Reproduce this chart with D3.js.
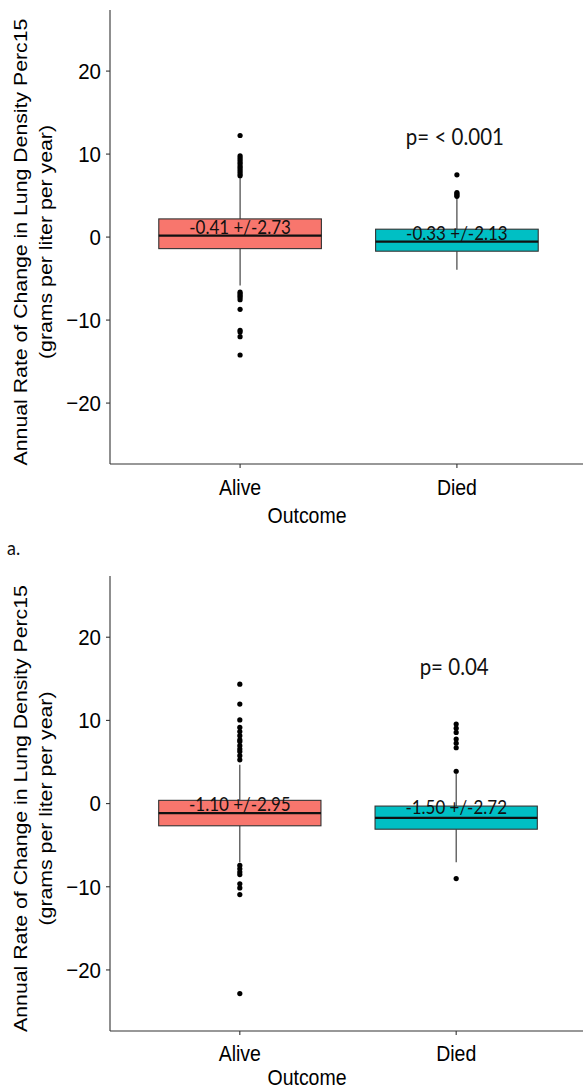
<!DOCTYPE html>
<html>
<head>
<meta charset="utf-8">
<script src="https://cdn.jsdelivr.net/npm/d3@7"></script>
<style>
  html, body { margin: 0; padding: 0; background: #fff; }
  svg { display: block; }
</style>
</head>
<body>
<svg id="chart" width="583" height="1091"></svg>
<script>
// ---------- DATA ----------
const categories = ["Alive", "Died"];
const yTicks = [-20, -10, 0, 10, 20];
const fillColors = ["#F8766D", "#00BFC4"];

// Panel 1 (top)
const p1Q1 = [-1.45, -1.76];
const p1Median = [0.12, -0.60];
const p1Q3 = [2.13, 0.89];
const p1WhiskerLow = [-5.9, -4.0];
const p1WhiskerHigh = [7.2, 4.6];
const p1OutliersAlive = [12.18, 9.73, 9.5, 9.25, 9.0, 8.77, 8.5, 8.29, 8.05, 7.81, 7.55, 7.33,
                         -6.7, -6.9, -7.1, -7.3, -7.6, -8.76, -11.3, -11.5, -12.06, -14.27];
const p1OutliersDied = [7.44, 5.3, 5.15, 5.0, 4.85];
const p1Labels = ["-0.41 +/-2.73", "-0.33 +/-2.13"];
const p1LabelY = [1.2, 0.45];
const p1PText = "p= < 0.001";
const p1PY = 12.0;

// Panel 2 (bottom)
const p2Q1 = [-2.73, -3.14];
const p2Median = [-1.21, -1.77];
const p2Q3 = [0.33, -0.36];
const p2WhiskerLow = [-7.1, -7.1];
const p2WhiskerHigh = [4.6, 3.6];
const p2OutliersAlive = [14.3, 11.9, 10.0, 9.1, 8.6, 8.1, 7.6, 7.4, 6.9, 6.5, 6.2, 5.7, 5.2,
                         -7.5, -7.9, -8.3, -8.6, -9.7, -10.2, -11.0, -22.9];
const p2OutliersDied = [9.5, 9.0, 8.5, 7.7, 7.2, 6.65, 3.83, -9.07];
const p2Labels = ["-1.10 +/-2.95", "-1.50 +/-2.72"];
const p2LabelY = [-0.07, -0.47];
const p2PText = "p= 0.04";
const p2PY = 16.4;

const yTitle1 = "Annual Rate of Change in Lung Density Perc15";
const yTitle2 = "(grams per liter per year)";
const xTitle = "Outcome";
const panelTag = "a.";

// ---------- DRAW ----------
const svg = d3.select("#chart");
const axisFont = "'Liberation Sans', Arial, sans-serif";
const annFont = "Lato, 'Open Sans', sans-serif";
const STRETCH = 1.12; // the picture is slightly taller than wide in its glyphs

// horizontal text, vertically stretched, centred on (x, y)
function hText(parent, x, y, txt, size, family, anchor) {
  return parent.append("text")
    .attr("transform", `translate(${x},${y}) scale(1,${STRETCH})`)
    .attr("text-anchor", anchor || "middle").attr("dominant-baseline", "central")
    .attr("font-family", family).attr("font-size", size).attr("fill", "#000")
    .text(txt);
}

function drawPanel(cfg) {
  const g = svg.append("g");
  const x = d3.scaleBand().domain(categories)
      .range([cfg.left, cfg.right]).paddingInner(0.25).paddingOuter(0.225);
  const y = d3.scaleLinear().domain([-27.4, 27.3]).range([cfg.bottom, cfg.top]);

  // y axis
  const yAxis = g.append("g").attr("transform", `translate(${cfg.left},0)`)
    .call(d3.axisLeft(y).tickValues(yTicks).tickSize(4).tickPadding(5));
  yAxis.select(".domain").attr("d", `M0,${cfg.top}V${cfg.bottom}`);
  yAxis.selectAll("path,line").attr("stroke", "#333").attr("stroke-width", 1.1);
  yAxis.selectAll("text")
    .attr("font-family", axisFont).attr("font-size", 20.5).attr("fill", "#000")
    .attr("dy", null).attr("dominant-baseline", "central")
    .attr("transform", `scale(1,${STRETCH})`);

  // x axis
  const xAxis = g.append("g").attr("transform", `translate(0,${cfg.bottom})`)
    .call(d3.axisBottom(x).tickSize(4).tickPadding(5));
  xAxis.select(".domain").attr("d", `M${cfg.left},0H${cfg.right}`);
  xAxis.selectAll("path,line").attr("stroke", "#333").attr("stroke-width", 1.1);
  xAxis.selectAll("text")
    .attr("font-family", axisFont).attr("font-size", 19.5).attr("fill", "#000")
    .attr("y", 0).attr("dy", null).attr("dominant-baseline", "central")
    .attr("transform", `translate(0,${cfg.tickLabelOffset}) scale(1,${STRETCH})`);

  const bw = x.bandwidth();
  const data = categories.map((c, i) => ({
    c, i, q1: cfg.q1[i], med: cfg.median[i], q3: cfg.q3[i],
    lo: cfg.wlo[i], hi: cfg.whi[i], out: cfg.outliers[i],
    label: cfg.labels[i], ly: cfg.labelY[i]
  }));

  const box = g.selectAll(".box").data(data).join("g").attr("class", "box");
  const cx = d => x(d.c) + bw / 2;
  // whiskers
  box.append("line").attr("x1", cx).attr("x2", cx)
    .attr("y1", d => y(d.q3)).attr("y2", d => y(d.hi))
    .attr("stroke", "#333").attr("stroke-width", 1.1);
  box.append("line").attr("x1", cx).attr("x2", cx)
    .attr("y1", d => y(d.q1)).attr("y2", d => y(d.lo))
    .attr("stroke", "#333").attr("stroke-width", 1.1);
  // boxes
  box.append("rect").attr("x", d => x(d.c)).attr("width", bw)
    .attr("y", d => y(d.q3)).attr("height", d => y(d.q1) - y(d.q3))
    .attr("fill", d => fillColors[d.i]).attr("stroke", "#333").attr("stroke-width", 1.1);
  // median
  box.append("line").attr("x1", d => x(d.c)).attr("x2", d => x(d.c) + bw)
    .attr("y1", d => y(d.med)).attr("y2", d => y(d.med))
    .attr("stroke", "#111").attr("stroke-width", 2.2);
  // outliers
  box.selectAll("circle").data(d => d.out.map(v => ({ c: d.c, v }))).join("circle")
    .attr("cx", d => x(d.c) + bw / 2).attr("cy", d => y(d.v)).attr("r", 2.6).attr("fill", "#000");
  // labels
  box.each(function(d) {
    hText(d3.select(this), cx(d), y(d.ly), d.label, 17, annFont).attr("fill", "#111");
  });

  // p text
  hText(g, x("Died") + bw / 2 - 2, y(cfg.pY), cfg.pText, 20.5, annFont).attr("fill", "#111");

  // y titles (stretched along their length, which runs vertically)
  const ymid = (cfg.top + cfg.bottom) / 2 + 5;
  [[yTitle1, 20], [yTitle2, 45]].forEach(([t, xx]) => {
    g.append("text")
      .attr("transform", `translate(${xx},${ymid}) rotate(-90) scale(${STRETCH},1)`)
      .attr("text-anchor", "middle").attr("dominant-baseline", "central")
      .attr("font-family", axisFont).attr("font-size", 19)
      .attr("fill", "#000").text(t);
  });

  // x title
  hText(g, 307, cfg.bottom + cfg.titleOffset, xTitle, 19.5, axisFont);
}

drawPanel({ left: 110, right: 587, top: 10, bottom: 464, tickLabelOffset: 23, titleOffset: 51,
  q1: p1Q1, median: p1Median, q3: p1Q3, wlo: p1WhiskerLow, whi: p1WhiskerHigh,
  outliers: [p1OutliersAlive, p1OutliersDied], labels: p1Labels, labelY: p1LabelY,
  pText: p1PText, pY: p1PY });

drawPanel({ left: 110, right: 586, top: 576, bottom: 1031, tickLabelOffset: 22, titleOffset: 46,
  q1: p2Q1, median: p2Median, q3: p2Q3, wlo: p2WhiskerLow, whi: p2WhiskerHigh,
  outliers: [p2OutliersAlive, p2OutliersDied], labels: p2Labels, labelY: p2LabelY,
  pText: p2PText, pY: p2PY });

hText(svg, 7, 547, panelTag, 18, annFont, "start").attr("fill", "#111");
</script>
</body>
</html>
